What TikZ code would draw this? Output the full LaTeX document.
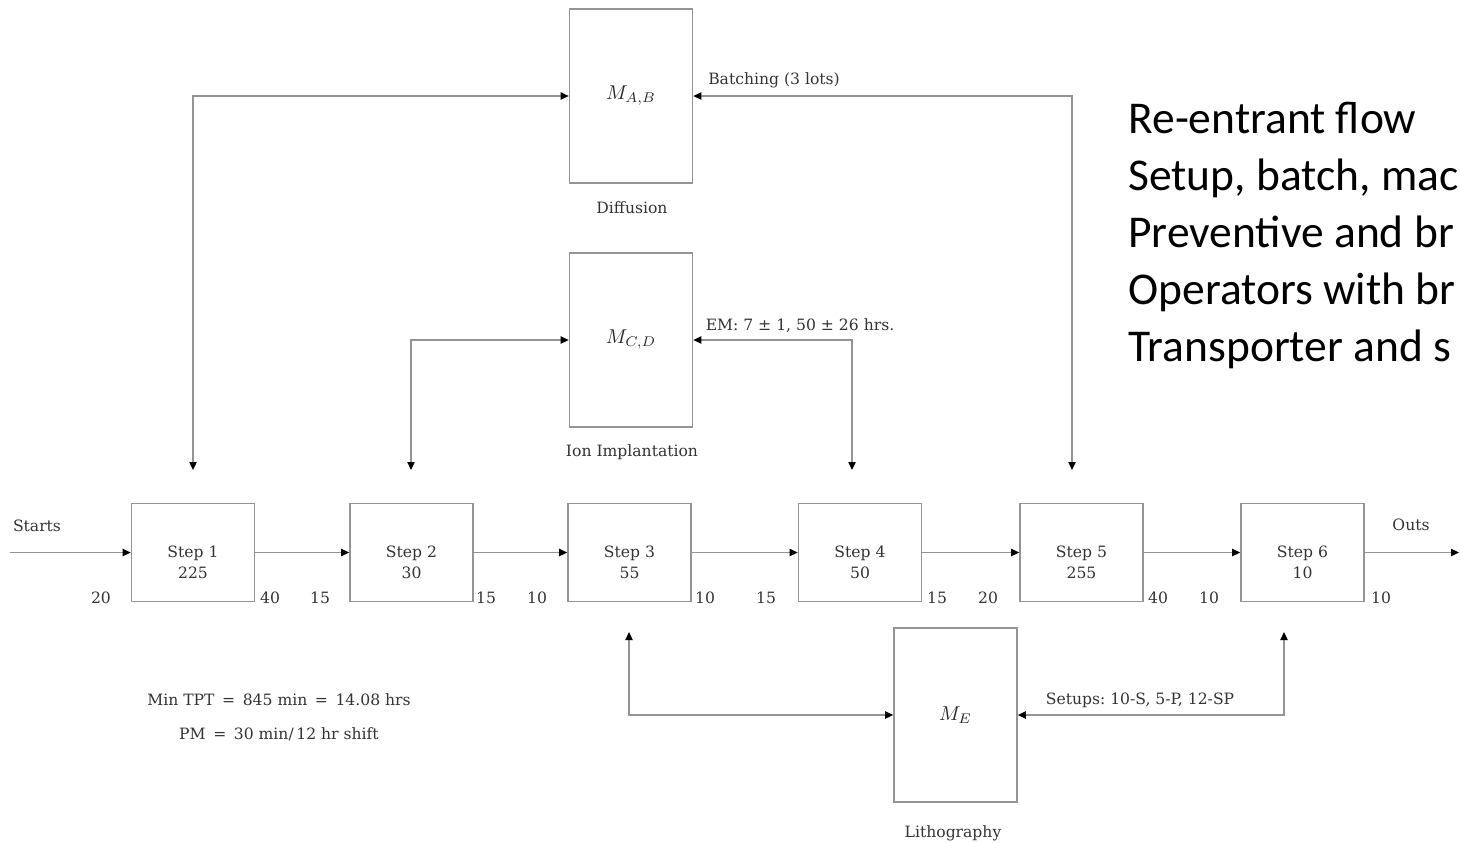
\documentclass[tikz,border=0pt]{standalone}
\usepackage{fontspec}
\setmainfont{DejaVu Serif}
\newfontfamily\slidefont{Carlito}
\usetikzlibrary{arrows.meta}

\tikzset{
  wire/.style={draw=black!42, line width=0.8pt},
  tip/.style={-{Triangle[length=4pt,width=3.6pt,color=black]}},
  bothtips/.style={{Triangle[length=4pt,width=3.6pt,color=black]}-{Triangle[length=4pt,width=3.6pt,color=black]}},
  stepbox/.style={draw=black!42, line width=0.8pt, minimum width=61.5pt, minimum height=49pt, inner sep=0pt},
  steptext/.style={align=center, inner sep=0pt, text=black!80, font=\fontsize{7.8}{10.5}\selectfont},
  machbox/.style={draw=black!42, line width=0.8pt, minimum width=61.5pt, minimum height=87pt, inner sep=0pt, text=black!85, font=\fontsize{10}{12}\selectfont},
  lbl/.style={inner sep=0pt, text=black!80, font=\fontsize{7.8}{10}\selectfont},
  slideline/.style={anchor=base west, inner sep=0pt, font=\slidefont\fontsize{22.75}{27}\selectfont},
}

\begin{document}
\begin{tikzpicture}[x=0.5pt,y=-0.5pt]
\useasboundingbox (0,0) rectangle (1460,842);
\clip (0,0) rectangle (1460,842);

% process steps along the main line
\node[stepbox] (s1) at (193,552.5) {};
\node[stepbox] (s2) at (411.5,552.5) {};
\node[stepbox] (s3) at (629.5,552.5) {};
\node[stepbox] (s4) at (860,552.5) {};
\node[stepbox] (s5) at (1081.5,552.5) {};
\node[stepbox] (s6) at (1302.5,552.5) {};

\node[steptext] (s1t) at (193,562) {Step 1\\225};
\node[steptext] (s2t) at (411.5,562) {Step 2\\30};
\node[steptext] (s3t) at (629.5,562) {Step 3\\55};
\node[steptext] (s4t) at (860,562) {Step 4\\50};
\node[steptext] (s5t) at (1081.5,562) {Step 5\\255};
\node[steptext] (s6t) at (1302.5,562) {Step 6\\10};

% shared tool groups
\node[machbox] (mab) at (631,96) {$M_{A,B}$};
\node[machbox] (mcd) at (631,340) {$M_{C,D}$};
\node[machbox] (me) at (955.5,715) {$M_E$};

\node[lbl] (diff) at (632,208) {Diffusion};
\node[lbl] (ion) at (632,452) {Ion Implantation};
\node[lbl] (litho) at (953,833) {Lithography};

% main flow
\coordinate (in) at (10,552.5);
\coordinate (out) at (1459,552.5);
\draw[wire,tip] (in) -- (s1.west);
\draw[wire,tip] (s1.east) -- (s2.west);
\draw[wire,tip] (s2.east) -- (s3.west);
\draw[wire,tip] (s3.east) -- (s4.west);
\draw[wire,tip] (s4.east) -- (s5.west);
\draw[wire,tip] (s5.east) -- (s6.west);
\draw[wire,tip] (s6.east) -- (out);

\node[lbl] (starts) at (37,526) {Starts};
\node[lbl] (outs) at (1411,525) {Outs};

% re-entrant visits to the tool groups
\coordinate (d1) at (193,470);
\coordinate (d5) at (1072,470);
\coordinate (d2) at (411,470);
\coordinate (d4) at (852,470);
\coordinate (u3) at (629,632);
\coordinate (u6) at (1284,632);
\draw[wire,bothtips] (d1) |- (mab.west);
\draw[wire,bothtips] (d5) |- (mab.east);
\draw[wire,bothtips] (d2) |- (mcd.west);
\draw[wire,bothtips] (d4) |- (mcd.east);
\draw[wire,bothtips] (u3) |- (me.west);
\draw[wire,bothtips] (u6) |- (me.east);

\node[lbl] (batch) at (774,80) {Batching (3 lots)};
\node[lbl] (em) at (800,326) {EM: 7 ± 1, 50 ± 26 hrs.};
\node[lbl] (setups) at (1140,700) {Setups:\ 10-S, 5-P, 12-SP};

% transfer times
\node[lbl] (t1) at (101,598) {20};
\node[lbl] (t2) at (270,598) {40};
\node[lbl] (t3) at (320,598) {15};
\node[lbl] (t4) at (486,598) {15};
\node[lbl] (t5) at (537,598) {10};
\node[lbl] (t6) at (705,598) {10};
\node[lbl] (t7) at (766,598) {15};
\node[lbl] (t8) at (937,598) {15};
\node[lbl] (t9) at (988,598) {20};
\node[lbl] (t10) at (1158,598) {40};
\node[lbl] (t11) at (1209,598) {10};
\node[lbl] (t12) at (1381,598) {10};

\node[lbl] (tpt) at (279,700) {Min TPT \,=\, 845 min \,=\, 14.08 hrs};
\node[lbl] (pm) at (279,734) {PM \,=\, 30 min/\,12 hr shift};

% notes on the right
\node[slideline] (r1) at (1128,133) {Re-entrant flow};
\node[slideline] (r2) at (1128,190) {Setup, batch, mac};
\node[slideline] (r3) at (1128,247) {Preventive and br};
\node[slideline] (r4) at (1128,304) {Operators with br};
\node[slideline] (r5) at (1128,361) {Transporter and s};
\end{tikzpicture}
\end{document}
